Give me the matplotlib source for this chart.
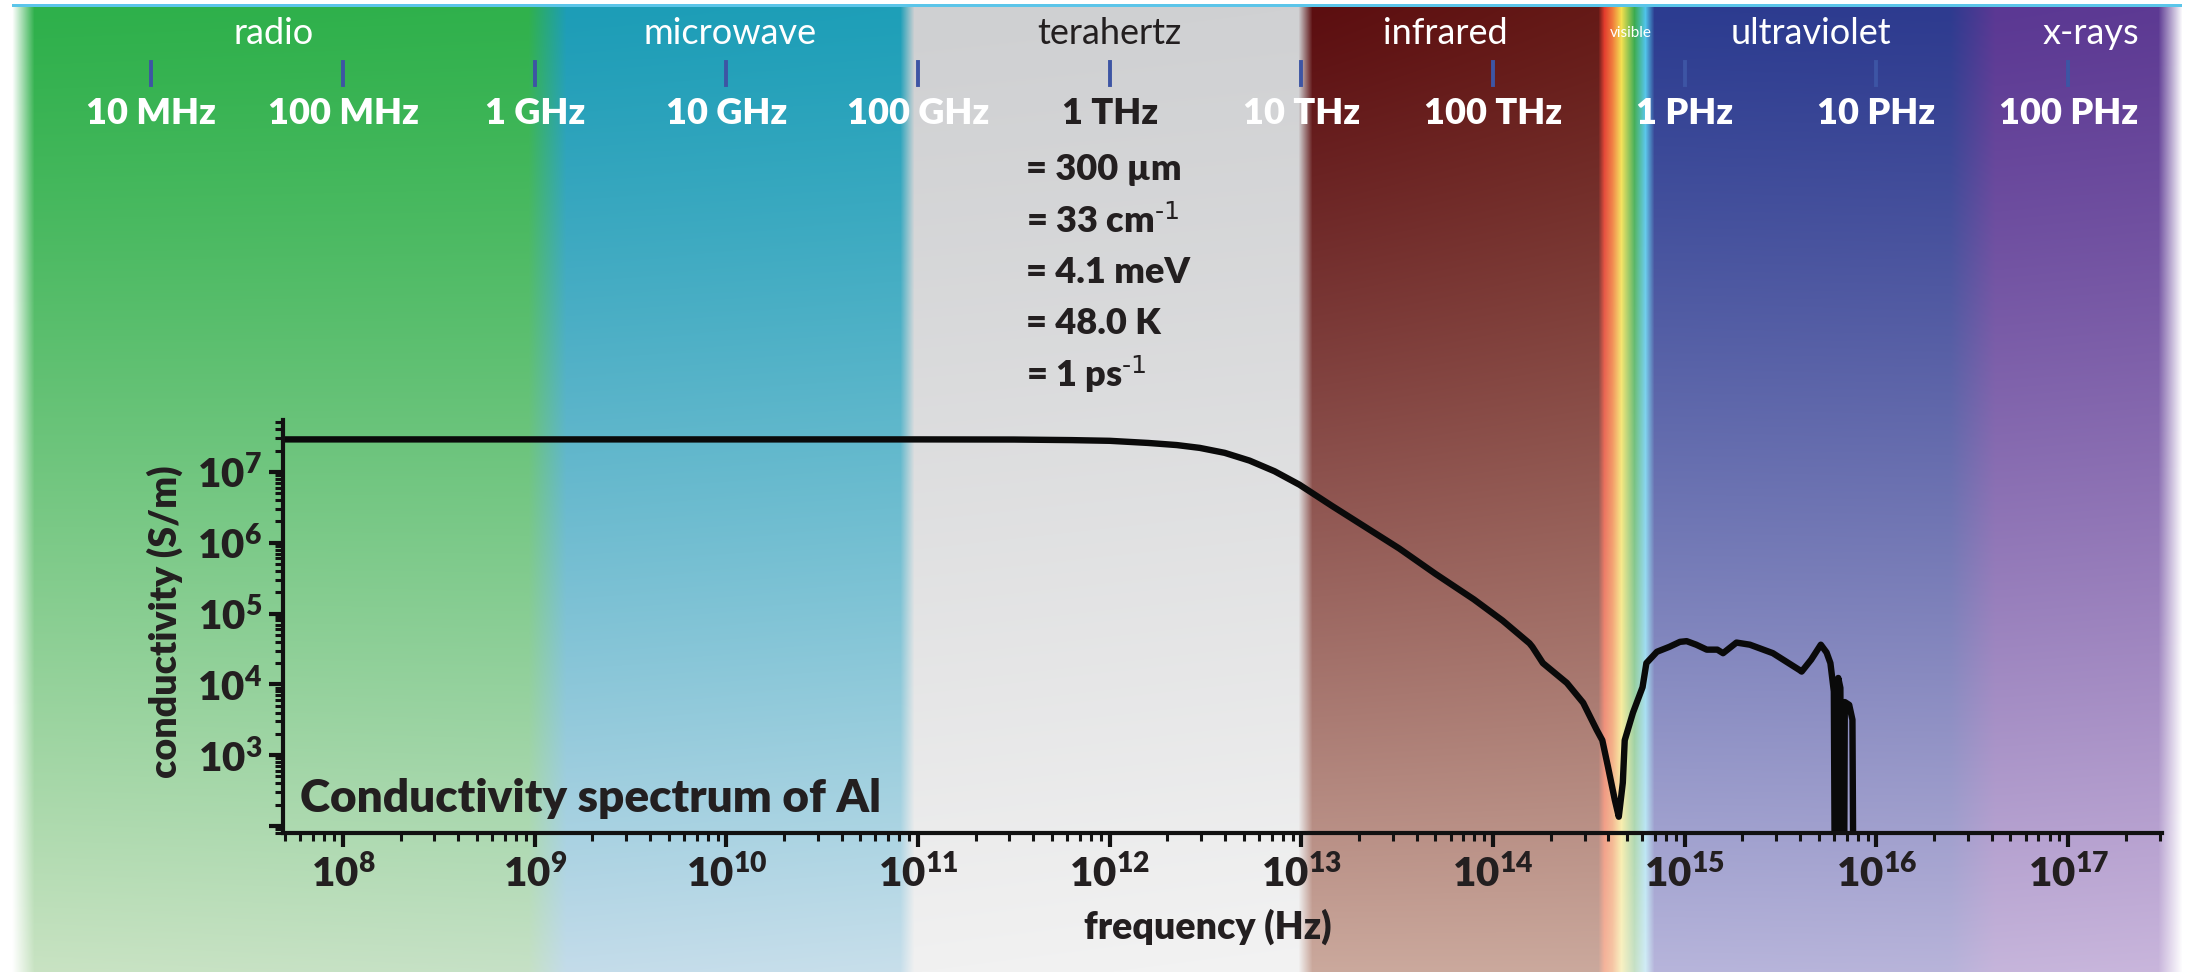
import matplotlib

matplotlib.use("Agg")

import matplotlib.pyplot as plt
import numpy as np
from matplotlib import transforms
from matplotlib.colors import to_rgb
from matplotlib.lines import Line2D
from matplotlib.ticker import FuncFormatter, LogLocator, NullFormatter

plt.rcParams["font.family"] = ["Lato", "DejaVu Sans"]
plt.rcParams["mathtext.default"] = "regular"

W, H = 2185, 972
BOLD = "heavy"

# conductivity spectrum of Al (log10 Hz, log10 S/m)
log_freq = [
    7.6, 8.0, 9.0, 10.0, 11.0, 11.5, 11.8, 12.0, 12.2, 12.35, 12.47, 12.6,
    12.73, 12.86, 12.99, 13.16, 13.3, 13.51, 13.7, 13.9, 14.05, 14.19, 14.205,
    14.26, 14.385, 14.47, 14.54, 14.57, 14.6, 14.635, 14.656, 14.677, 14.687,
    14.73, 14.78, 14.8, 14.855, 14.92, 14.975, 15.01, 15.06, 15.115, 15.17,
    15.2, 15.27, 15.34, 15.46, 15.6, 15.61, 15.66, 15.71, 15.74, 15.76,
    15.778, 15.785, 15.795, 15.801, 15.812, 15.82, 15.83, 15.835, 15.858,
    15.875, 15.882,
]
log_sigma = [
    7.46, 7.46, 7.46, 7.46, 7.46, 7.458, 7.45, 7.44, 7.41, 7.38, 7.34, 7.27,
    7.16, 7.01, 6.82, 6.52, 6.28, 5.92, 5.56, 5.2, 4.9, 4.58, 4.53,
    4.3, 4.02, 3.74, 3.36, 3.21, 2.83, 2.37, 2.13, 2.61, 3.21,
    3.6, 3.96, 4.3, 4.46, 4.53, 4.6, 4.61, 4.56, 4.49, 4.49,
    4.44, 4.59, 4.56, 4.44, 4.2, 4.18, 4.35, 4.56, 4.45, 4.3,
    3.9, 0.0, 0.0, 4.09, 3.95, 0.0, 0.0, 3.75, 3.71,
    3.5, 0.0,
]

band_names = ["radio", "microwave", "terahertz", "infrared", "visible", "ultraviolet", "x-rays"]
band_name_pos = [7.64, 10.02, 12.0, 13.75, 14.72, 15.66, 17.12]

top_exponents = list(range(7, 18))
top_labels = ["10 MHz", "100 MHz", "1 GHz", "10 GHz", "100 GHz", "1 THz",
              "10 THz", "100 THz", "1 PHz", "10 PHz", "100 PHz"]

thz_equivalents = ["= 300 µm", r"= 33 cm$^{\text{-1}}$", "= 4.1 meV", "= 48.0 K",
                   r"= 1 ps$^{\text{-1}}$"]

# background colour stops: pixel x, colour at top, colour at bottom
bg_stops = [
    (0, "#ffffff", "#ffffff"),
    (12, "#ffffff", "#ffffff"),
    (34, "#2eb04b", "#c9e3c3"),
    (528, "#30b14c", "#c6e1c6"),
    (566, "#1d9db7", "#c4dcea"),
    (900, "#1e9fb8", "#c8dfeb"),
    (914, "#cfd0d2", "#f1f1f1"),
    (1298, "#d0d1d3", "#f3f3f3"),
    (1312, "#5c0e10", "#cba99d"),
    (1598, "#651a17", "#cba99d"),
    (1604, "#e33b2c", "#f4b49c"),
    (1612, "#f07a3a", "#f6c6a6"),
    (1621, "#f4e04e", "#f9f1c3"),
    (1634, "#3bab4f", "#c7e1c6"),
    (1645, "#4fc4ea", "#d1ecf6"),
    (1654, "#2c3c90", "#b7b5db"),
    (1950, "#2e3b8f", "#b8b4da"),
    (1995, "#5b3893", "#c6b5db"),
    (2158, "#5d3a93", "#c9b6dc"),
    (2182, "#ffffff", "#ffffff"),
    (2185, "#ffffff", "#ffffff"),
]


def build_background():
    xs = np.arange(W)
    sx = [s[0] for s in bg_stops]
    top = np.array([to_rgb(s[1]) for s in bg_stops])
    bot = np.array([to_rgb(s[2]) for s in bg_stops])
    top_row = np.stack([np.interp(xs, sx, top[:, c]) for c in range(3)], axis=-1)
    bot_row = np.stack([np.interp(xs, sx, bot[:, c]) for c in range(3)], axis=-1)
    t = np.clip((np.arange(H) - 8) / (H - 8), 0, 1) ** 1.15
    img = top_row[None, :, :] * (1 - t[:, None, None]) + bot_row[None, :, :] * t[:, None, None]
    img[:5, :, :] = 1.0
    img[5:8, 12:2182, :] = to_rgb("#5bc5ea")
    return img


fig = plt.figure(figsize=(W / 100, H / 100), dpi=100)
bg = fig.add_axes([0, 0, 1, 1], zorder=0)
bg.imshow(build_background(), extent=(0, W, H, 0), aspect="auto", interpolation="bilinear")
bg.set_xlim(0, W)
bg.set_ylim(H, 0)
bg.axis("off")

ax = fig.add_axes([283 / W, 1 - 833 / H, (2162 - 283) / W, (833 - 420) / H], zorder=2)
ax.set_facecolor("none")
ax.plot(10 ** np.array(log_freq), 10 ** np.array(log_sigma), color="#0a0a0a",
        linewidth=4.6, solid_joinstyle="round", solid_capstyle="butt")
ax.set_xscale("log")
ax.set_yscale("log")
ax.set_xlim(10 ** 7.687, 10 ** 17.49)
ax.set_ylim(10 ** 1.90, 10 ** 7.734)

for side in ("top", "right"):
    ax.spines[side].set_visible(False)
for side in ("left", "bottom"):
    ax.spines[side].set_linewidth(3)
    ax.spines[side].set_color("#111111")

ax.xaxis.set_major_locator(LogLocator(base=10, numticks=20))
ax.xaxis.set_minor_locator(LogLocator(base=10, subs=np.arange(2, 10), numticks=200))
ax.yaxis.set_major_locator(LogLocator(base=10, numticks=20))
ax.yaxis.set_minor_locator(LogLocator(base=10, subs=np.arange(2, 10), numticks=200))
ax.xaxis.set_minor_formatter(NullFormatter())
ax.yaxis.set_minor_formatter(NullFormatter())


def decade_label(v, pos, lo, hi):
    e = int(round(np.log10(v)))
    if lo <= e <= hi:
        return "$10^{%d}$" % e
    return ""


ax.xaxis.set_major_formatter(FuncFormatter(lambda v, p: decade_label(v, p, 8, 17)))
ax.yaxis.set_major_formatter(FuncFormatter(lambda v, p: decade_label(v, p, 3, 7)))
ax.tick_params(which="major", direction="out", length=10, width=3, color="#111111",
               labelsize=29, labelcolor="#231f20")
ax.tick_params(axis="x", which="major", pad=5)
ax.tick_params(axis="y", which="major", pad=5)
ax.tick_params(which="minor", direction="out", length=6, width=2.2, color="#111111")
for lab in ax.get_xticklabels() + ax.get_yticklabels():
    lab.set_fontweight(BOLD)

fig.text(165 / W, 1 - 622 / H, "conductivity (S/m)", rotation=90, ha="center", va="center",
         fontsize=27, fontweight=BOLD, color="#231f20")
fig.text(1208 / W, 1 - 927 / H, "frequency (Hz)", ha="center", va="center",
         fontsize=27, fontweight=BOLD, color="#231f20")
fig.text(300 / W, 1 - 812 / H, "Conductivity spectrum of Al", ha="left", va="baseline",
         fontsize=33, fontweight=BOLD, color="#231f20")

# spectrum ruler across the top, aligned with the frequency axis
blend = transforms.blended_transform_factory(ax.transData, fig.transFigure)
for e, lab in zip(top_exponents, top_labels):
    fig.add_artist(Line2D([10.0 ** e, 10.0 ** e], [1 - 62 / H, 1 - 85 / H], transform=blend,
                          color="#3d55a4", linewidth=2.8, clip_on=False))
    fig.text(10.0 ** e, 1 - 114 / H, lab, transform=blend, ha="center", va="center",
             fontsize=26, fontweight=BOLD,
             color="#231f20" if lab == "1 THz" else "white")

for name, pos in zip(band_names, band_name_pos):
    small = name == "visible"
    fig.text(10.0 ** pos, 1 - 33 / H, name, transform=blend, ha="center", va="center",
             fontsize=11 if small else 26,
             color="#231f20" if name == "terahertz" else "white")

for i, line in enumerate(thz_equivalents):
    fig.text(1026 / W, 1 - (170 + 51 * i) / H, line, ha="left", va="center",
             fontsize=26, fontweight=BOLD, color="#231f20")

fig.savefig("out.png", dpi=100)
plt.close(fig)
